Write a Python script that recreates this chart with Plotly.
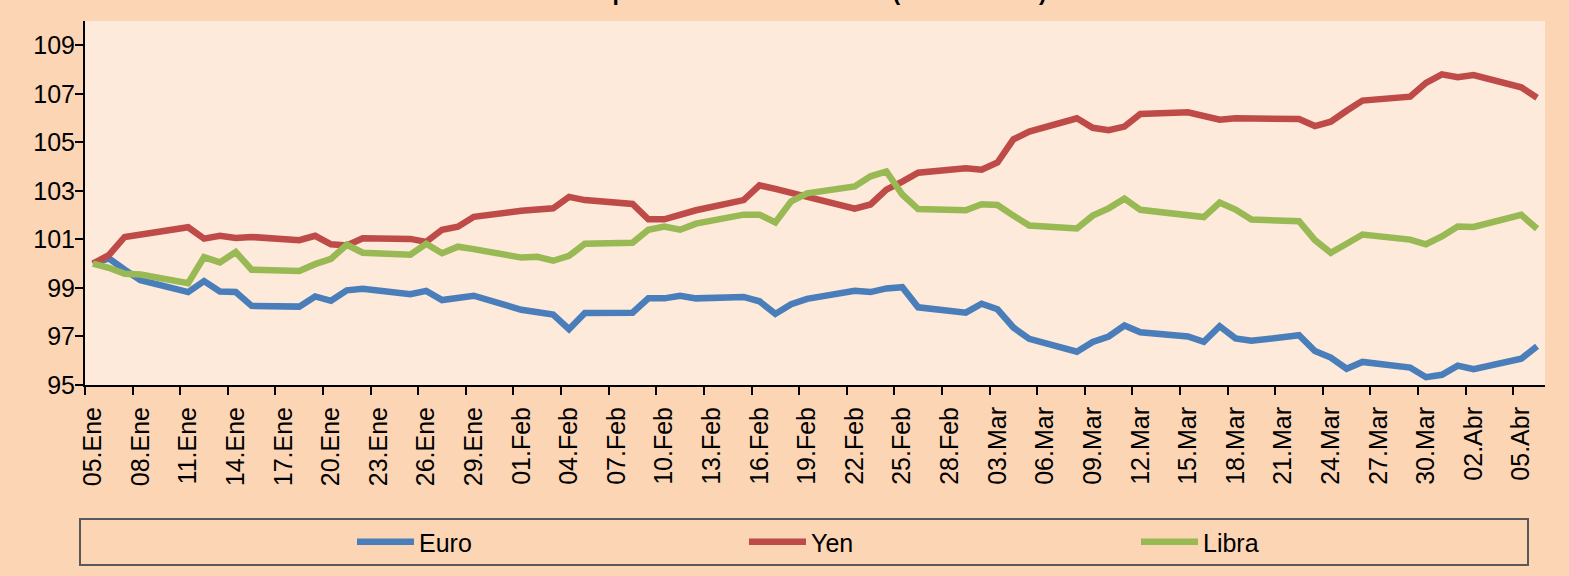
import pandas as pd
import plotly.graph_objects as go

dates = [
    "2010-01-05", "2010-01-06", "2010-01-07", "2010-01-08", "2010-01-11", "2010-01-12", "2010-01-13",
    "2010-01-14", "2010-01-15", "2010-01-18", "2010-01-19", "2010-01-20", "2010-01-21", "2010-01-22",
    "2010-01-25", "2010-01-26", "2010-01-27", "2010-01-28", "2010-01-29",
    "2010-02-01", "2010-02-02", "2010-02-03", "2010-02-04", "2010-02-05", "2010-02-08", "2010-02-09",
    "2010-02-10", "2010-02-11", "2010-02-12", "2010-02-15", "2010-02-16", "2010-02-17", "2010-02-18",
    "2010-02-19", "2010-02-22", "2010-02-23", "2010-02-24", "2010-02-25", "2010-02-26",
    "2010-03-01", "2010-03-02", "2010-03-03", "2010-03-04", "2010-03-05", "2010-03-08", "2010-03-09",
    "2010-03-10", "2010-03-11", "2010-03-12", "2010-03-15", "2010-03-16", "2010-03-17", "2010-03-18",
    "2010-03-19", "2010-03-22", "2010-03-23", "2010-03-24", "2010-03-25", "2010-03-26", "2010-03-29",
    "2010-03-30", "2010-03-31",
    "2010-04-01", "2010-04-02", "2010-04-05", "2010-04-06",
]

euro = [
    100.00, 100.22, 99.75, 99.32, 98.83, 99.28, 98.85, 98.83, 98.26, 98.23, 98.65, 98.47, 98.90, 98.97,
    98.74, 98.88, 98.50, 98.58, 98.68,
    98.10, 97.97, 97.90, 97.30, 97.97, 97.98, 98.57, 98.57, 98.68, 98.57, 98.63, 98.45, 97.93, 98.33,
    98.55, 98.88, 98.83, 98.98, 99.03, 98.20,
    97.98, 98.35, 98.12, 97.37, 96.90, 96.37, 96.77, 97.00, 97.45, 97.17, 97.00, 96.78, 97.42, 96.92,
    96.82, 97.05, 96.40, 96.13, 95.67, 95.95, 95.72, 95.32, 95.42,
    95.80, 95.65, 96.08, 96.60,
]

yen = [
    100.00, 100.35, 101.10, 101.20, 101.50, 101.03, 101.15, 101.06, 101.10, 100.97, 101.15, 100.80, 100.75,
    101.05, 101.02, 100.90, 101.40, 101.52, 101.93,
    102.18, 102.24, 102.28, 102.75, 102.62, 102.46, 101.83, 101.83, 102.00, 102.20, 102.62, 103.23, 103.08,
    102.92, 102.76, 102.27, 102.44, 103.05, 103.38, 103.75,
    103.93, 103.87, 104.17, 105.12, 105.44, 105.99, 105.60, 105.50, 105.65, 106.17, 106.24, 106.10, 105.93,
    105.99, 105.99, 105.96, 105.67, 105.85, 106.30, 106.72, 106.88, 107.45, 107.80,
    107.68, 107.77, 107.27, 106.84,
]

libra = [
    100.00, 99.83, 99.58, 99.55, 99.20, 100.27, 100.05, 100.48, 99.75, 99.70, 99.98, 100.20, 100.78, 100.45,
    100.37, 100.82, 100.43, 100.70, 100.60,
    100.25, 100.28, 100.12, 100.32, 100.82, 100.86, 101.40, 101.53, 101.40, 101.65, 102.02, 102.02, 101.70,
    102.57, 102.90, 103.18, 103.60, 103.80, 102.85, 102.25,
    102.20, 102.45, 102.42, 101.98, 101.57, 101.45, 101.98, 102.28, 102.68, 102.22, 102.02, 101.92, 102.52,
    102.23, 101.82, 101.75, 100.97, 100.45, 100.82, 101.20, 100.99, 100.80, 101.12,
    101.53, 101.51, 102.01, 101.44,
]

tick_dates = [
    "2010-01-05", "2010-01-08", "2010-01-11", "2010-01-14", "2010-01-17", "2010-01-20", "2010-01-23",
    "2010-01-26", "2010-01-29", "2010-02-01", "2010-02-04", "2010-02-07", "2010-02-10", "2010-02-13",
    "2010-02-16", "2010-02-19", "2010-02-22", "2010-02-25", "2010-02-28", "2010-03-03", "2010-03-06",
    "2010-03-09", "2010-03-12", "2010-03-15", "2010-03-18", "2010-03-21", "2010-03-24", "2010-03-27",
    "2010-03-30", "2010-04-02", "2010-04-05",
]
tick_labels = [
    "05.Ene", "08.Ene", "11.Ene", "14.Ene", "17.Ene", "20.Ene", "23.Ene", "26.Ene", "29.Ene",
    "01.Feb", "04.Feb", "07.Feb", "10.Feb", "13.Feb", "16.Feb", "19.Feb", "22.Feb", "25.Feb", "28.Feb",
    "03.Mar", "06.Mar", "09.Mar", "12.Mar", "15.Mar", "18.Mar", "21.Mar", "24.Mar", "27.Mar", "30.Mar",
    "02.Abr", "05.Abr",
]
y_ticks = [95, 97, 99, 101, 103, 105, 107, 109]

title_text = "Apreciación frente al dólar (05.Ene = 100)"

series = [("Euro", euro, "#4A7EBB"), ("Yen", yen, "#BE4B48"), ("Libra", libra, "#98B954")]

# Points are centred within each day (date axis, "between tick marks")
x = pd.to_datetime(dates) + pd.Timedelta(hours=12)

FONT = "Arial, Liberation Sans, sans-serif"
PAPER = "#FCD5B5"

fig = go.Figure()
for name, vals, col in series:
    fig.add_trace(go.Scatter(x=x, y=vals, name=name, mode="lines",
                             line=dict(color=col, width=6.5, shape="linear")))

W, H = 1569, 576
L, R, T, B = 85, 24, 21, 191
pw = W - L - R
ph = H - T - B


def px_x(px):
    return (px - L) / pw


def px_y(py):
    return (H - B - py) / ph


fig.update_layout(
    width=W, height=H, autosize=False,
    margin=dict(l=L, r=R, t=T, b=B, pad=0, autoexpand=False),
    paper_bgcolor=PAPER,
    plot_bgcolor="#FDEADA",
    font=dict(family=FONT, size=25, color="black"),
    showlegend=True,
    legend=dict(
        orientation="h", x=px_x(352), y=px_y(542), xanchor="left", yanchor="middle",
        bgcolor="rgba(0,0,0,0)", borderwidth=0, font=dict(family=FONT, size=25, color="black"),
        entrywidth=320, entrywidthmode="pixels", itemwidth=57,
    ),
    xaxis=dict(
        type="date", range=["2010-01-05", "2010-04-07"], automargin=False,
        tickmode="array", tickvals=pd.to_datetime(tick_dates), ticktext=tick_labels,
        tickangle=-90, ticks="outside", ticklen=8, tickwidth=2, tickcolor="black",
        ticklabelshift=8, ticklabelstandoff=2,
        showline=True, linecolor="black", linewidth=2, showgrid=False, zeroline=False,
        tickfont=dict(family=FONT, size=25, color="black"),
    ),
    yaxis=dict(
        range=[95, 110], tickmode="array", tickvals=y_ticks, automargin=False,
        ticks="outside", ticklen=8, tickwidth=2, tickcolor="black",
        ticklabelstandoff=-5,
        showline=True, linecolor="black", linewidth=2, showgrid=False, zeroline=False,
        tickfont=dict(family=FONT, size=25, color="black"),
    ),
    shapes=[dict(type="rect", xref="paper", yref="paper",
                 x0=px_x(80), x1=px_x(1528), y0=px_y(565), y1=px_y(519),
                 line=dict(color="#595959", width=2), fillcolor="rgba(0,0,0,0)")],
    annotations=[dict(text="<b>" + title_text + "</b>", xref="paper", yref="paper",
                      x=px_x(821), y=px_y(7), xanchor="center", yanchor="bottom",
                      showarrow=False, font=dict(family=FONT, size=23, color="black"))],
)

fig.write_html(
    "out.html",
    config={"displayModeBar": False},
    post_script="document.body.style.margin='0';document.body.style.background='" + PAPER + "';",
)
